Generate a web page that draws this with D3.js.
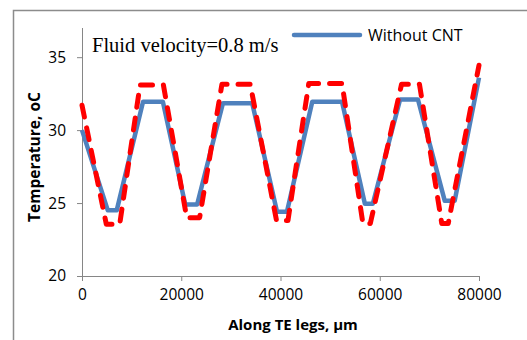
<!DOCTYPE html>
<html>
<head>
<meta charset="utf-8">
<script src="https://cdn.jsdelivr.net/npm/d3@7"></script>
<style>
  html, body { margin: 0; padding: 0; background: #fff; }
  svg { display: block; }
  .tick text { font-family: "Open Sans", sans-serif; font-size: 15.5px; fill: #000; }
</style>
</head>
<body>
<div id="chart"></div>
<script>
// Data
const blueX = [0, 5200, 7000, 12300, 16300, 20800, 23200, 28400, 34300, 39300, 41300, 46400, 52400, 57000, 58600, 64100, 67700, 73100, 75100, 80000];
const blueY = [30.0, 24.5, 24.5, 31.95, 31.95, 24.9, 24.9, 31.85, 31.85, 24.4, 24.4, 31.95, 31.95, 24.95, 24.95, 32.1, 32.1, 25.15, 25.15, 33.6];
const redX = [0, 4900, 7600, 11700, 16400, 21100, 23700, 28200, 33900, 39200, 41500, 45700, 52400, 56600, 58100, 64400, 68000, 72500, 73800, 80000];
const redY = [31.7, 23.55, 23.55, 33.1, 33.1, 24.0, 24.0, 33.15, 33.15, 23.8, 23.8, 33.2, 33.2, 23.6, 23.6, 33.15, 33.15, 23.6, 23.6, 34.45];
const xTicks = [0, 20000, 40000, 60000, 80000];
const yTicks = [20, 25, 30, 35];

const W = 527, H = 340;
const svg = d3.select("#chart").append("svg")
    .attr("width", W)
    .attr("height", H);

// outer frame (only top and left visible)
svg.append("path")
    .attr("d", `M13.5,${H} L13.5,10.5 L${W},10.5`)
    .attr("fill", "none")
    .attr("stroke", "#8c8c8c")
    .attr("stroke-width", 1.5);

const x = d3.scaleLinear().domain([0, 80000]).range([82, 479]);
const y = d3.scaleLinear().domain([20, 37]).range([276, 28]);

const axisColor = "#868686";

// x axis
const gx = svg.append("g")
    .attr("transform", "translate(0,276)")
    .call(d3.axisBottom(x).tickValues(xTicks).tickSize(5).tickPadding(8).tickFormat(d3.format("d")));
gx.select(".domain").attr("stroke", axisColor).attr("d", "M77,0.5H479");
gx.selectAll(".tick line").attr("stroke", axisColor);

// y axis
const gy = svg.append("g")
    .attr("transform", "translate(82,0)")
    .call(d3.axisLeft(y).tickValues(yTicks).tickSize(5).tickPadding(11));
gy.select(".domain").attr("stroke", axisColor).attr("d", "M0.5,28V276");
gy.selectAll(".tick line").attr("stroke", axisColor);

// axis titles
svg.append("text")
    .attr("x", 293)
    .attr("y", 330)
    .attr("text-anchor", "middle")
    .style("font-family", "'Open Sans', sans-serif")
    .style("font-weight", "bold")
    .style("font-size", "15px")
    .text("Along TE legs, µm");

svg.append("text")
    .attr("transform", "translate(40,157) rotate(-90)")
    .attr("text-anchor", "middle")
    .style("font-family", "'Open Sans', sans-serif")
    .style("font-weight", "bold")
    .style("font-size", "15.5px")
    .text("Temperature, oC");

// lines
const line = d3.line()
    .x(d => x(d[0]))
    .y(d => y(d[1]));

svg.append("path")
    .datum(blueX.map((v, i) => [v, blueY[i]]))
    .attr("fill", "none")
    .attr("stroke", "#4f81bd")
    .attr("stroke-width", 4.5)
    .attr("stroke-linejoin", "round")
    .attr("d", line);

svg.append("path")
    .datum(redX.map((v, i) => [v, redY[i]]))
    .attr("fill", "none")
    .attr("stroke", "#ff0000")
    .attr("stroke-width", 5)
    .attr("stroke-linecap", "round")
    .attr("stroke-linejoin", "round")
    .attr("stroke-dasharray", "12,11")
    .attr("d", line);

// annotation
svg.append("text")
    .attr("x", 92)
    .attr("y", 52)
    .style("font-family", "'Liberation Serif', 'Times New Roman', serif")
    .style("font-size", "20.5px")
    .text("Fluid velocity=0.8 m/s");

// legend
svg.append("line")
    .attr("x1", 294).attr("x2", 360)
    .attr("y1", 35).attr("y2", 35)
    .attr("stroke", "#4f81bd")
    .attr("stroke-width", 4.5)
    .attr("stroke-linecap", "round");

svg.append("text")
    .attr("x", 368)
    .attr("y", 41)
    .style("font-family", "'Open Sans', sans-serif")
    .style("font-size", "16px")
    .text("Without CNT");
</script>
</body>
</html>
